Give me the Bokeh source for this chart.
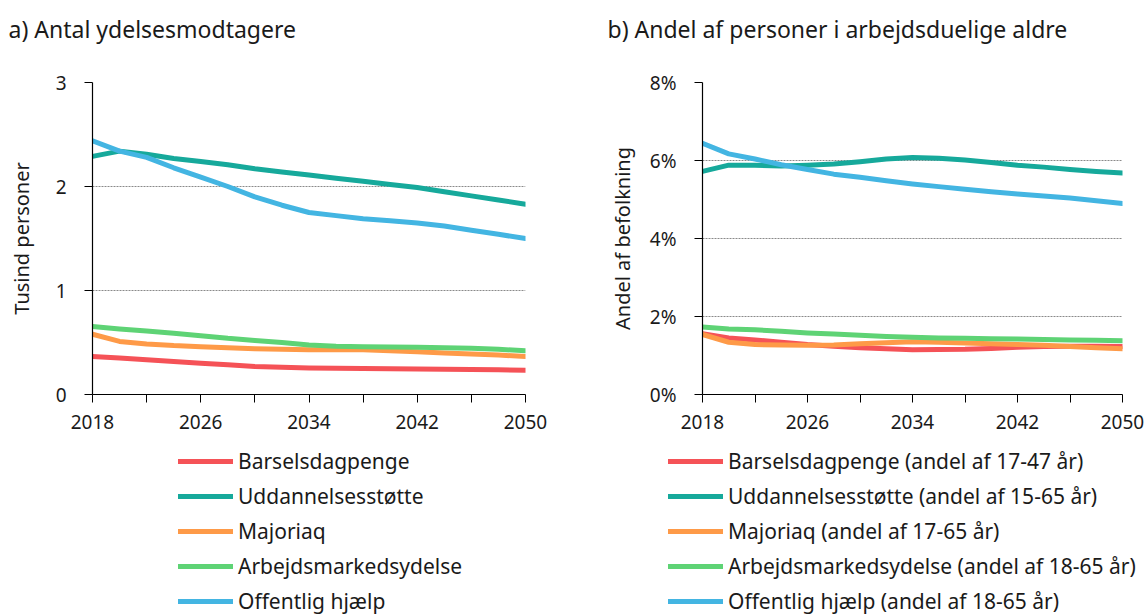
from bokeh.plotting import figure
from bokeh.layouts import row, column
from bokeh.models import Range1d, FixedTicker, Legend, LegendItem, PrintfTickFormatter, Label
from bokeh.embed import file_html
from bokeh.resources import INLINE

years = [2018, 2020, 2022, 2024, 2026, 2028, 2030, 2032, 2034, 2036, 2038, 2040, 2042, 2044, 2046, 2048, 2050]

# a) Antal ydelsesmodtagere (tusind personer)
a_barsel = [0.365, 0.35, 0.333, 0.317, 0.30, 0.285, 0.27, 0.262, 0.256, 0.252, 0.25, 0.248, 0.246, 0.243, 0.24, 0.237, 0.233]
a_uddan = [2.29, 2.34, 2.31, 2.27, 2.24, 2.21, 2.17, 2.14, 2.11, 2.08, 2.05, 2.02, 1.99, 1.95, 1.91, 1.87, 1.83]
a_major = [0.58, 0.51, 0.486, 0.47, 0.46, 0.45, 0.44, 0.435, 0.43, 0.43, 0.43, 0.42, 0.41, 0.40, 0.39, 0.38, 0.365]
a_arbejd = [0.653, 0.63, 0.61, 0.59, 0.566, 0.54, 0.52, 0.50, 0.477, 0.465, 0.46, 0.457, 0.454, 0.45, 0.445, 0.435, 0.42]
a_offent = [2.44, 2.34, 2.28, 2.18, 2.09, 2.00, 1.90, 1.82, 1.75, 1.72, 1.69, 1.67, 1.65, 1.62, 1.58, 1.54, 1.50]

# b) Andel af personer i arbejdsduelige aldre (%)
b_barsel = [1.56, 1.45, 1.40, 1.34, 1.28, 1.24, 1.20, 1.17, 1.15, 1.155, 1.16, 1.18, 1.21, 1.23, 1.24, 1.235, 1.23]
b_uddan = [5.72, 5.88, 5.88, 5.86, 5.88, 5.91, 5.97, 6.04, 6.08, 6.06, 6.01, 5.95, 5.88, 5.83, 5.77, 5.72, 5.68]
b_major = [1.54, 1.34, 1.28, 1.27, 1.26, 1.27, 1.30, 1.33, 1.35, 1.34, 1.32, 1.30, 1.28, 1.26, 1.23, 1.20, 1.17]
b_arbejd = [1.73, 1.68, 1.66, 1.62, 1.58, 1.55, 1.52, 1.49, 1.47, 1.45, 1.44, 1.43, 1.42, 1.41, 1.40, 1.39, 1.38]
b_offent = [6.44, 6.17, 6.04, 5.89, 5.77, 5.65, 5.57, 5.48, 5.40, 5.33, 5.26, 5.20, 5.14, 5.09, 5.04, 4.97, 4.90]

titles = ["a) Antal ydelsesmodtagere", "b) Andel af personer i arbejdsduelige aldre"]
names_a = ["Barselsdagpenge", "Uddannelsesstøtte", "Majoriaq", "Arbejdsmarkedsydelse", "Offentlig hjælp"]
names_b = ["Barselsdagpenge (andel af 17-47 år)", "Uddannelsesstøtte (andel af 15-65 år)",
           "Majoriaq (andel af 17-65 år)", "Arbejdsmarkedsydelse (andel af 18-65 år)",
           "Offentlig hjælp (andel af 18-65 år)"]
colors = ["#F55257", "#16A99B", "#FE9A48", "#5ED375", "#43B5E2"]

x_major = [2018, 2026, 2034, 2042, 2050]
x_minor = [2022, 2030, 2038, 2046]
FONT = "Noto Sans"
TXT = "#1a1a1a"
TITLE_H = 50
MAIN_H = 390
LEG_H = 175
FULL_W = 1146


def strip(height):
    s = figure(width=FULL_W, height=height, output_backend="svg", toolbar_location=None,
               x_range=Range1d(0, FULL_W), y_range=Range1d(0, height),
               min_border_left=0, min_border_right=0, min_border_top=0, min_border_bottom=0)
    s.axis.visible = False
    s.grid.visible = False
    s.outline_line_color = None
    return s


def make_fig(series, width, y_end, y_ticks, y_label, left_border, right_border, pct, ylab_standoff):
    p = figure(width=width, height=MAIN_H, output_backend="svg", toolbar_location=None,
               x_range=Range1d(2018, 2050), y_range=Range1d(0, y_end),
               min_border_left=left_border, min_border_right=right_border,
               min_border_top=32, min_border_bottom=46)
    p.outline_line_color = None
    p.background_fill_color = "white"
    p.border_fill_color = "white"

    p.xgrid.visible = False
    p.ygrid.grid_line_color = "#8a8a8a"
    p.ygrid.grid_line_dash = "2 1"
    p.ygrid.grid_line_width = 1

    p.xaxis.ticker = FixedTicker(ticks=x_major, minor_ticks=x_minor)
    p.yaxis.ticker = FixedTicker(ticks=y_ticks, minor_ticks=[])
    if pct:
        p.yaxis.formatter = PrintfTickFormatter(format="%d%%")
    for ax in (p.xaxis, p.yaxis):
        ax.axis_line_color = "black"
        ax.axis_line_width = 1.2
        ax.major_tick_line_color = "black"
        ax.minor_tick_line_color = "black"
        ax.major_tick_out = 8
        ax.major_tick_in = 0
        ax.minor_tick_out = 8
        ax.minor_tick_in = 0
        ax.major_label_text_font = FONT
        ax.major_label_text_font_size = "19px"
        ax.major_label_text_color = TXT
    p.xaxis.major_label_standoff = 12
    p.yaxis.major_label_standoff = 18
    p.yaxis.minor_tick_line_color = None
    p.yaxis.axis_label = y_label
    p.yaxis.axis_label_text_font = FONT
    p.yaxis.axis_label_text_font_size = "20px"
    p.yaxis.axis_label_text_font_style = "normal"
    p.yaxis.axis_label_text_color = TXT
    p.yaxis.axis_label_standoff = ylab_standoff

    for ys, c in zip(series, colors):
        p.line(years, ys, line_color=c, line_width=5, line_cap="round", line_join="round")
    return p


def add_legend(lf, series, names, legend_x):
    items = []
    for ys, nm, c in zip(series, names, colors):
        # same series; lies outside this strip's ranges so only its legend entry shows
        r = lf.line(years, ys, line_color=c, line_width=5, line_cap="round")
        items.append(LegendItem(label=nm, renderers=[r]))
    leg = Legend(items=items, location=(legend_x, 0))
    leg.orientation = "vertical"
    leg.border_line_color = None
    leg.background_fill_alpha = 0
    leg.padding = 0
    leg.margin = 0
    leg.glyph_width = 55
    leg.glyph_height = 20
    leg.label_height = 20
    leg.spacing = 7
    leg.label_standoff = 5
    leg.label_text_font = FONT
    leg.label_text_font_size = "21px"
    leg.label_text_color = TXT
    lf.add_layout(leg, "center")


sa = [a_barsel, a_uddan, a_major, a_arbejd, a_offent]
sb = [b_barsel, b_uddan, b_major, b_arbejd, b_offent]

# panel titles
tf = strip(TITLE_H)
for tx, t in zip([8, 607], titles):
    tf.add_layout(Label(x=tx, y=TITLE_H - 28, text=t, text_font=FONT, text_font_size="23px",
                        text_color=TXT, text_baseline="middle", text_align="left"))

pa = make_fig(sa, 566, 3, [0, 1, 2, 3], "Tusind personer", 92, 41, False, 18)
pb = make_fig(sb, 580, 8, [0, 2, 4, 6, 8], "Andel af befolkning", 136, 24, True, 11)

lf = strip(LEG_H)
add_legend(lf, sa, names_a, 178)
add_legend(lf, sb, names_b, 668)

layout = column(tf, row(pa, pb), lf)
open("out.html", "w").write(file_html(layout, INLINE))
